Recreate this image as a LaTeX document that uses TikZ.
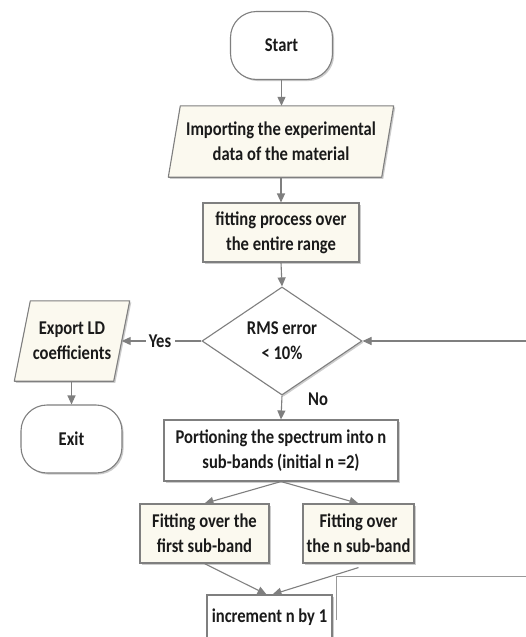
\documentclass[tikz,border=0pt]{standalone}
\usepackage{fontspec}
\setmainfont{Carlito}[FakeStretch=0.85]
\usetikzlibrary{shapes.geometric,arrows.meta,shadows,calc}
\definecolor{cream}{HTML}{FBF9EF}
\definecolor{edge}{HTML}{7F7F7F}
\definecolor{txt}{HTML}{1A1A1A}
\begin{document}
\begin{tikzpicture}[x=1pt,y=-1pt,
  font=\fontsize{19.5}{25}\selectfont\bfseries, text=txt,
  shad/.style={drop shadow={shadow xshift=1.6pt,shadow yshift=-1.6pt,opacity=0.4,fill=gray}},
  boxbase/.style={draw=edge,line width=1.1pt,inner sep=0pt,align=center,shad},
  procbox/.style={boxbase,rectangle,fill=cream},
  whitebox/.style={boxbase,rectangle,fill=white},
  termbox/.style={boxbase,rectangle,rounded corners=26pt,fill=white},
  decbox/.style={boxbase,diamond,fill=white},
  txtonly/.style={inner sep=0pt,align=center},
  para/.style={draw=edge,line width=1.1pt,fill=cream,line join=round},
  parashad/.style={fill=gray,opacity=0.4},
  arr/.style={draw=edge,line width=1.1pt,-{Triangle[length=9pt,width=8pt]}},
  ln/.style={draw=edge,line width=1.1pt},
  thin/.style={draw=edge!80,line width=0.7pt}
]
\clip (0,0) rectangle (526,637);
\fill[white] (0,0) rectangle (526,637);

% Start
\node[termbox,minimum width=102pt,minimum height=68pt] (start) at (281.5,45.5) {Start};

% Importing (parallelogram)
\node[txtonly,minimum width=225pt,minimum height=71pt] (imp) at (281,141.5) {Importing the experimental\\data of the material};
\fill[parashad] ($(imp.north west)+(13.6,1.6)$) -- ($(imp.north east)+(1.6,1.6)$) -- ($(imp.south east)+(-10.4,1.6)$) -- ($(imp.south west)+(1.6,1.6)$) -- cycle;
\path[para] ($(imp.north west)+(12,0)$) -- (imp.north east) -- ($(imp.south east)+(-12,0)$) -- (imp.south west) -- cycle;
\node[txtonly] at (imp) {Importing the experimental\\data of the material};

% fitting process
\node[procbox,minimum width=156pt,minimum height=59pt] (fit) at (281,232.5) {fitting process over\\the entire range};

% decision
\node[decbox,minimum width=160pt,minimum height=107pt] (dec) at (282,341) {RMS error\\{<} 10\%};

% Export LD (parallelogram)
\node[txtonly,minimum width=115pt,minimum height=80pt] (exp) at (72,341) {Export LD\\coefficients};
\fill[parashad] ($(exp.north west)+(17.6,1.6)$) -- ($(exp.north east)+(1.6,1.6)$) -- ($(exp.south east)+(-14.4,1.6)$) -- ($(exp.south west)+(1.6,1.6)$) -- cycle;
\path[para] ($(exp.north west)+(16,0)$) -- (exp.north east) -- ($(exp.south east)+(-16,0)$) -- (exp.south west) -- cycle;
\node[txtonly] at (exp) {Export LD\\coefficients};

% Exit
\node[termbox,minimum width=101pt,minimum height=68pt] (exit) at (71.5,439) {Exit};

% Portioning
\node[whitebox,minimum width=234pt,minimum height=61pt] (port) at (281,450.5) {Portioning the spectrum into n\\sub-bands (initial n =2)};

% sub-band fits
\node[procbox,minimum width=129pt,minimum height=59pt] (fit1) at (204.5,533.5) {Fitting over the\\first sub-band};
\node[procbox,minimum width=111pt,minimum height=59pt] (fit2) at (358.5,533.5) {Fitting over\\the n sub-band};

% increment
\node[whitebox,minimum width=125pt,minimum height=50pt] (inc) at (269.5,620) {};
\node[txtonly] (inctxt) at (269.5,617) {increment n by 1};

% labels
\node[txtonly] (yes) at (160,341) {Yes};
\node[txtonly] (no) at (318,399) {No};

% coordinates
\coordinate (loopin) at (526,341);
\coordinate (lp1) at (336,620);
\coordinate (lp2) at (336,576);
\coordinate (lp3) at (526,576);

% connectors
\draw[arr] (start.south) -- (start.south |- imp.north);
\draw[arr] (imp.south -| fit.north) -- (fit.north);
\draw[arr] (fit.south) -- (dec.north);
\draw[ln] (dec.west) -- ($(yes.east)+(4,0)$);
\draw[arr] ($(yes.west)+(-3,0)$) -- ($(exp.east)+(-8,0)$);
\draw[arr] (exp.south -| exit.north) -- (exit.north);
\draw[arr] (loopin) -- (dec.east);
\draw[arr] (dec.south) -- (port.north);
\draw[arr] (port.south) -- (fit1.north);
\draw[arr] (port.south) -- (fit2.north);
\draw[arr] (fit1.south) -- ($(inc.north)+(-3,0)$);
\draw[arr] ($(fit2.south)+(0,4)$) -- ($(inc.north)+(3,0)$);
\draw[thin] (lp1) -- (lp2) -- (lp3);
\end{tikzpicture}
\end{document}
